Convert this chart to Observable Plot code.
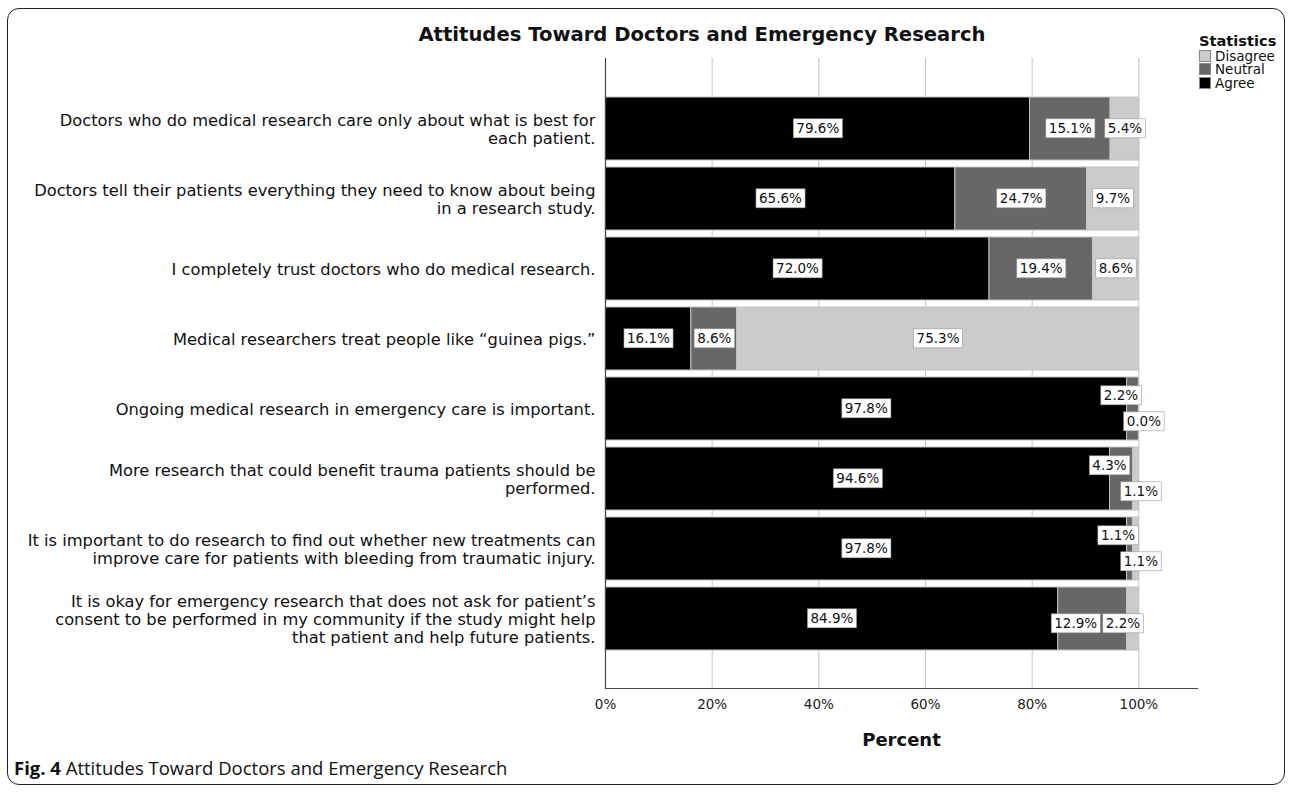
<!DOCTYPE html>
<html>
<head>
<meta charset="utf-8">
<script src="https://cdn.jsdelivr.net/npm/d3@7"></script>
<script src="https://cdn.jsdelivr.net/npm/@observablehq/plot@0.6"></script>
<style>
  html, body { margin: 0; padding: 0; background: #fff; }
  #page { position: relative; width: 1293px; height: 793px; overflow: hidden; font-family: "DejaVu Sans", sans-serif; }
  #border { position: absolute; left: 7px; top: 8px; width: 1276px; height: 775px; border: 1.5px solid #222; border-radius: 12px; }
  #title { position: absolute; left: 0; width: 1404px; top: 23px; text-align: center; font-weight: bold; font-size: 19.6px; color: #111; }
  #legend { position: absolute; left: 1199px; top: 32px; font-size: 13.5px; color: #111; }
  #legend .lt { font-weight: bold; font-size: 14.6px; margin-bottom: 0px; }
  #legend .it { display: flex; align-items: center; height: 13.5px; }
  #legend .sw { width: 12px; height: 12px; margin-right: 4px; box-sizing: border-box; border: 0.5px solid #888; }
  #caption { position: absolute; left: 14px; top: 755px; font-family: "Open Sans", sans-serif; font-size: 18.5px; color: #111; }
  #chart { position: absolute; left: 0; top: 0; }
</style>
</head>
<body>
<div id="page">
  <div id="border"></div>
  <div id="chart"></div>
  <div id="title">Attitudes Toward Doctors and Emergency Research</div>
  <div id="legend"></div>
  <div id="caption"><b>Fig. 4</b> Attitudes Toward Doctors and Emergency Research</div>
</div>
<script>
const statements = [
  "Doctors who do medical research care only about what is best for\neach patient.",
  "Doctors tell their patients everything they need to know about being\nin a research study.",
  "I completely trust doctors who do medical research.",
  "Medical researchers treat people like \u201cguinea pigs.\u201d",
  "Ongoing medical research in emergency care is important.",
  "More research that could benefit trauma patients should be\nperformed.",
  "It is important to do research to find out whether new treatments can\nimprove care for patients with bleeding from traumatic injury.",
  "It is okay for emergency research that does not ask for patient\u2019s\nconsent to be performed in my community if the study might help\nthat patient and help future patients."
];
const agree    = [79.6, 65.6, 72.0, 16.1, 97.8, 94.6, 97.8, 84.9];
const neutral  = [15.1, 24.7, 19.4,  8.6,  2.2,  4.3,  1.1, 12.9];
const disagree = [ 5.4,  9.7,  8.6, 75.3,  0.0,  1.1,  1.1,  2.2];
const stackOrder = ["Agree", "Neutral", "Disagree"];
const legendOrder = ["Disagree", "Neutral", "Agree"];
const legendColors = ["#cbcbcb", "#676767", "#000000"];
const xTicks = [0, 20, 40, 60, 80, 100];
const gridTicks = [20, 40, 60, 80, 100];

const rows = [];
statements.forEach((s, i) => {
  const vals = {Agree: agree[i], Neutral: neutral[i], Disagree: disagree[i]};
  const crowded = neutral[i] < 5;                 // both small segments: split labels above/below
  const tight = !crowded && disagree[i] < 5;      // narrow last segment: nudge labels apart
  for (const r of stackOrder) rows.push({statement: s, response: r, value: vals[r], crowded, tight});
});
const fmt = v => v.toFixed(1) + "%";
const isMinor = d => d.response !== "Agree";

const stackOpts = extra => Plot.stackX({x: "value", y: "statement", z: "response", order: stackOrder, ...extra});
const lbl = {fontSize: 13.5, fill: "#111"};

const chart = Plot.plot({
  width: 1293,
  height: 762,
  marginLeft: 605,
  marginRight: 96,
  marginTop: 58,
  marginBottom: 74,
  style: {fontFamily: "DejaVu Sans, sans-serif", fontSize: "14px", color: "#000", background: "transparent", overflow: "visible"},
  x: {domain: [0, 111]},
  y: {domain: statements, paddingInner: 0.1, paddingOuter: 0.5, align: 0.5},
  color: {domain: legendOrder, range: legendColors},
  marks: [
    Plot.gridX(gridTicks, {stroke: "#c4c4c4", strokeOpacity: 1, strokeWidth: 1}),
    Plot.barX(rows, stackOpts({fill: "response", stroke: "#c4c4c4", strokeWidth: 1})),
    Plot.ruleX([0], {stroke: "#444", strokeWidth: 1.2}),
    Plot.frame({anchor: "bottom", stroke: "#444", strokeWidth: 1.2}),
    Plot.axisY({tickSize: 0, tickPadding: 10, fontSize: 16.3, lineHeight: 1.1, label: null, fill: "#111"}),
    Plot.axisX(xTicks, {tickSize: 0, tickPadding: 11, fontSize: 13.5, tickFormat: d => d + "%", label: null, fill: "#222"}),
    Plot.text(["Percent"], {frameAnchor: "bottom", dy: 57, fontWeight: "bold", fontSize: 18, fill: "#111"}),
    Plot.text(rows, stackOpts({text: d => isMinor(d) && (d.crowded || d.tight) ? null : fmt(d.value), ...lbl})),
    Plot.text(rows, stackOpts({text: d => d.tight && d.response === "Neutral" ? fmt(d.value) : null, dx: -17, dy: 5, ...lbl})),
    Plot.text(rows, stackOpts({text: d => d.tight && d.response === "Disagree" ? fmt(d.value) : null, dx: -10, dy: 5, ...lbl})),
    Plot.text(rows, stackOpts({text: d => d.crowded && d.response === "Neutral" ? fmt(d.value) : null, dx: -12, dy: -13, ...lbl})),
    Plot.text(rows, stackOpts({text: d => d.crowded && d.response === "Disagree" ? fmt(d.value) : null, dx: 5, dy: 13, ...lbl}))
  ]
});
document.getElementById("chart").appendChild(chart);

// white boxes behind value labels
chart.querySelectorAll('g[aria-label="text"] text').forEach(t => {
  if (!/%$/.test(t.textContent)) return;
  const b = t.getBBox();
  const rect = document.createElementNS("http://www.w3.org/2000/svg", "rect");
  rect.setAttribute("x", b.x - 3);
  rect.setAttribute("y", b.y - 1.5);
  rect.setAttribute("width", b.width + 6);
  rect.setAttribute("height", b.height + 3);
  rect.setAttribute("fill", "#fff");
  rect.setAttribute("stroke", "#999");
  rect.setAttribute("stroke-width", "0.6");
  const tr = t.getAttribute("transform");
  if (tr) rect.setAttribute("transform", tr);
  t.parentNode.insertBefore(rect, t);
});

// legend
const lg = document.getElementById("legend");
lg.innerHTML = '<div class="lt">Statistics</div>' + legendOrder.map((k, i) =>
  `<div class="it"><span class="sw" style="background:${legendColors[i]}"></span>${k}</div>`).join("");
</script>
</body>
</html>
